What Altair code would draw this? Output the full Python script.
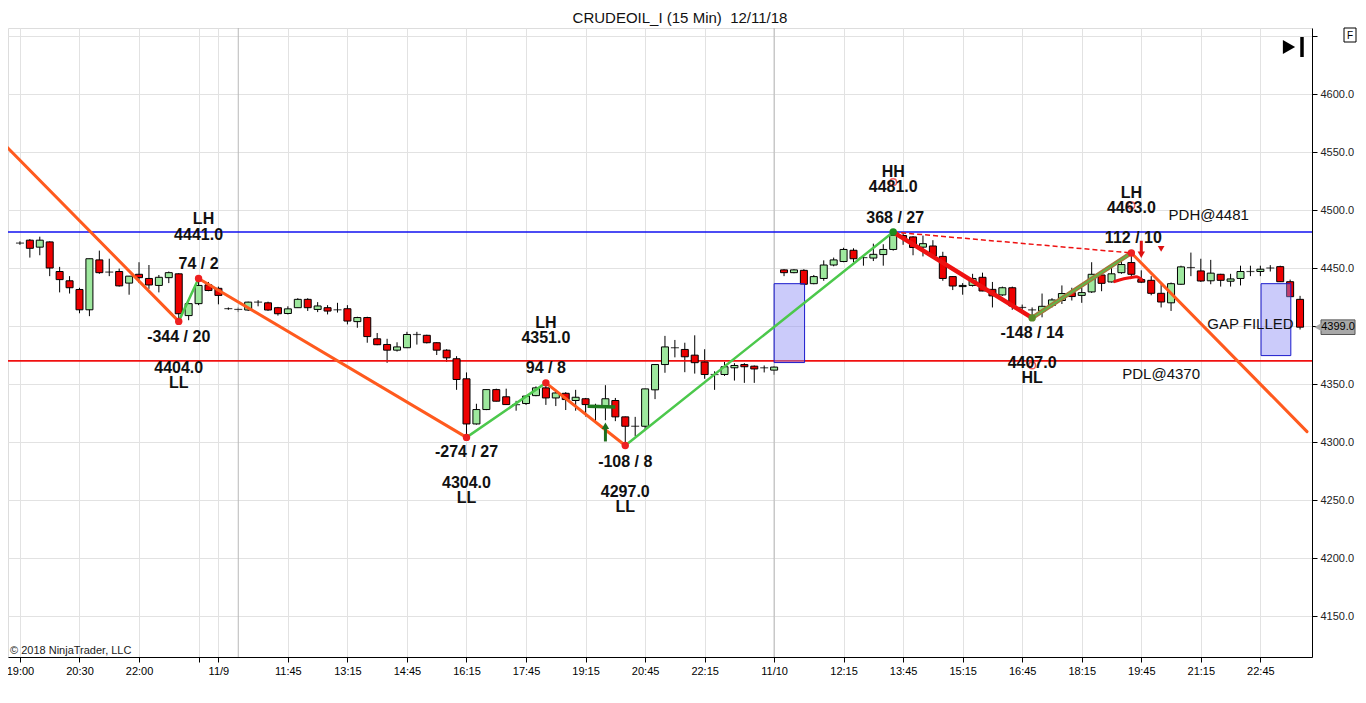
import altair as alt
import pandas as pd

# ---------------- data ----------------
opens = [4471.5,4474,4468,4472.5,4447,4439,4431.5,4414,4457,4446.5,
         4447,4437,4444.6,4441,4435,4441.7,4445,4409,4419.3,4435.5,
         4432.5,4415,4414.3,4413.8,4420.6,4420,4415.8,4410.8,4415.8,4423,
         4414.3,4415.8,4414,4414.9,4403.8,4407.3,4389,4384.1,4379.2,4381.3,
         4392.7,4392,4385.6,4379.2,4371.8,4354.5,4315.6,4328,4345.2,4339,
         4332.3,4333.2,4340,4346.7,4338,4342,4335.8,4337.3,4331.5,4331.4,
         4335.8,4321.7,4313.6,4313.6,4345,4366.8,4381.3,4379.8,4374.9,4369,
         4358.2,4358.2,4364,4366.8,4365.4,4364,4362,4448.4,4446,4448,
         4436.5,4441,4452.6,4455.6,4465.3,4459,4458.6,4461.6,4466,4478,
         4476.8,4468,4469,4460,4442.6,4434,4435,4442,4431.6,4426.8,
         4433,4416,4414,4413,4417.8,4422,4428.8,4426.4,4429.4,4444,
         4438,4446,4454.7,4440,4439.4,4428.2,4420,4436,4450.4,4447.5,
         4439,4444.6,4438.6,4441,4447,4447,4450,4451.2,4438.2,4423]
closes = [4471.5,4467,4474,4450,4440,4433,4414,4458,4446,4446.5,
          4434.6,4443,4441.7,4435.4,4442,4446,4410.6,4419.3,4435,4430.6,
          4426.4,4415,4414.3,4420.6,4420.6,4413.8,4410.6,4414.8,4423,4415.8,
          4417.3,4412.9,4414,4404.3,4407.3,4390.9,4383.9,4379.2,4382,4392.7,
          4392.7,4385.6,4379.2,4372.6,4353.9,4315.6,4328,4345.2,4335.2,4332.3,
          4332.3,4339.6,4346.7,4338,4342.3,4336.6,4338.6,4332.3,4331.5,4337.3,
          4321.7,4313.6,4313.6,4345.8,4366.8,4382,4381.3,4373.5,4368.4,4358.2,
          4358.2,4364.9,4366,4364.9,4363,4364,4364.6,4446,4448.4,4436,
          4442.6,4452.6,4457,4466,4458,4459,4461.8,4466,4478.2,4476,
          4467.7,4471,4460.4,4441,4434.5,4435,4441,4430.2,4426,4433,
          4417.3,4416,4414,4417,4422.5,4428,4425.4,4428.8,4444.6,4436.8,
          4445,4453,4444.6,4437.8,4428.2,4420.7,4436.5,4451,4450.4,4438.8,
          4445.6,4439.4,4440.6,4447,4447,4449,4450,4438.2,4425.3,4399]
highs = [4473,4475,4477,4473,4451,4443,4433,4458,4465,4458,
         4449.5,4443,4455,4452.6,4444,4447,4445.5,4420,4441,4438,
         4434,4416,4416,4421,4422.3,4421,4416.5,4417,4424,4424,
         4420.6,4418,4420,4418,4408,4408,4394,4389,4386,4395,
         4395,4392.5,4386,4380,4374,4360,4333,4345.5,4346,4346,
         4335.5,4340,4348,4351,4345,4343,4345,4338,4333,4349,
         4338,4322,4321.7,4346,4367,4391.5,4388,4385.6,4392,4380,
         4361,4369,4368,4368,4366,4366,4365.5,4449,4449,4449,
         4444,4456.6,4459,4467.5,4467,4460,4471,4470.5,4481,4480,
         4477.5,4478,4474,4464,4443,4437,4445,4446,4438,4434,
         4434,4418.5,4416,4428,4424,4435,4433,4433,4455,4445,
         4452,4457,4463,4448,4443,4436,4437.5,4452,4463.3,4458,
         4457,4445,4445,4452,4452,4452,4452.5,4452,4440,4426]
lows = [4470,4459,4461,4443,4429,4428,4411,4408.5,4445,4443,
        4434,4427,4437,4432,4429,4437,4404,4405,4418,4430,
        4418.7,4414,4412,4413,4417,4413,4409,4410,4415.8,4413,
        4412,4410,4411.6,4401.4,4398.5,4385.6,4383.5,4368.3,4378,4381,
        4384,4385,4375,4369,4345,4304,4315,4327.5,4335,4332,
        4327,4332,4339.5,4332,4331,4327.6,4327,4322,4318,4318.8,
        4318,4297,4305,4311,4337,4359.7,4373,4360.2,4359,4354.5,
        4345,4357,4353,4351,4351,4360,4358,4443,4445.5,4435.9,
        4436,4439,4451.5,4455,4455,4452,4456,4452,4465,4470,
        4461,4460,4460,4439,4431,4427,4434,4430,4416,4426,
        4414,4411,4407,4407.5,4416,4419,4422,4420,4428.5,4430,
        4437.5,4445,4443,4437,4426.5,4416,4413,4435.5,4443,4438,
        4436,4434,4434,4435,4443,4443,4447,4438,4425.3,4397]

tick_idx = [0, 6, 12, 18, 20, 27, 33, 39, 45, 51, 57, 63, 69, 76, 83, 89, 95, 101, 107, 113, 119, 125]
tick_lbl = ['19:00', '20:30', '22:00', '', '11/9', '11:45', '13:15', '14:45', '16:15', '17:45', '19:15',
            '20:45', '22:15', '11/10', '12:15', '13:45', '15:15', '16:45', '18:15', '19:45', '21:15', '22:45']
price_ticks = [4150, 4200, 4250, 4300, 4350, 4400, 4450, 4500, 4550, 4600, 4650]

# zigzag swing points
zz_i = [-1.5, 16, 18, 45, 53, 61, 88, 102, 112, 129.7]
zz_p = [4556, 4404, 4441, 4304, 4351, 4297, 4481, 4407, 4463, 4309]
zz_col = ['#FF5A1E', '#4CC84C', '#FF5A1E', '#4CC84C', '#FF5A1E', '#4CC84C', '#EE1111', '#A07C3C', '#FF5A1E']
zz_w = [3, 2.5, 3, 2.5, 3, 2.5, 4.5, 4.5, 3]

dot_i = [16, 18, 45, 53, 61, 88, 102, 112]
dot_p = [4404, 4441, 4304, 4351, 4297, 4481, 4407, 4463]
dot_c = ['#EE2020', '#EE2020', '#EE2020', '#EE2020', '#EE2020', '#1E8C1E', '#5A8C28', '#EE2020']

swing_i = [88, 112, 102]
swing_p = [4524, 4504, 4366]

pdh, pdl = 4481, 4370
gaps_i1 = [76, 125.07]
gaps_i2 = [79.07, 128.07]
gaps_lo = [4368.5, 4374.5]
gaps_hi = [4436.5, 4436.5]

bold_txt = ['LH', '4441.0', '74 / 2', '-344 / 20', '4404.0', 'LL',
            'LH', '4351.0', '94 / 8', '-274 / 27', '4304.0', 'LL',
            '-108 / 8', '4297.0', 'LL', 'HH', '4481.0', '368 / 27',
            '-148 / 14', '4407.0', 'HL', 'LH', '4463.0', '112 / 10']
bold_i = [18.5, 18, 18, 16, 16, 16, 53, 53, 53, 45, 45, 45,
          61, 61, 61, 88, 88, 88.2, 102, 102, 102, 112, 112, 112.2]
bold_p = [4492.2, 4478.4, 4453.4, 4390.5, 4363.8, 4350.9,
          4402.6, 4389.7, 4363.8, 4291.4, 4264.7, 4251.7,
          4282.8, 4256.9, 4244.0, 4532.8, 4519.8, 4493.1,
          4394.0, 4368.1, 4355.2, 4514.7, 4501.7, 4475.9]
reg_txt = ['PDH@4481', 'PDL@4370', 'GAP FILLED']
reg_i = [119.8, 115, 124]
reg_p = [4495.7, 4358.6, 4401.7]

last_price = 4399.0

# ---------------- build ----------------
FONT = 'Liberation Sans'
XD = [-0.7, 129.7]
YD = [4114.7, 4656.9]

df = pd.DataFrame({'i': list(range(len(opens))), 'o': opens, 'h': highs, 'l': lows, 'c': closes})
df['dir'] = ['up' if c > o else ('down' if c < o else 'flat') for o, c in zip(df.o, df.c)]

label_expr = ''.join(f"datum.value == {t} ? '{l}' : " for t, l in zip(tick_idx, tick_lbl)) + "''"

xs = alt.Scale(domain=XD, nice=False, zero=False)
ys = alt.Scale(domain=YD, nice=False, zero=False)

x_axis = alt.Axis(values=tick_idx, labelExpr=label_expr, title=None, grid=True, gridColor='#E2E2E2',
                  tickSize=5, tickColor='black', domainColor='black', labelFont=FONT, labelFontSize=11,
                  labelColor='black', labelPadding=3, labelFlush=False, labelOverlap=False)
y_axis = alt.Axis(values=price_ticks, orient='right', title=None, grid=True, gridColor='#E2E2E2',
                  labelExpr="(datum.value == 4650 || datum.value == 4400) ? '' : format(datum.value, '.1f')",
                  tickSize=5, tickColor='black', domainColor='black', labelFont=FONT, labelFontSize=11,
                  labelColor='#222', labelPadding=3, labelOverlap=False)

base = alt.Chart(df)

wicks = base.mark_rule(color='black', strokeWidth=1).encode(
    x=alt.X('i:Q', scale=xs, axis=x_axis),
    y=alt.Y('l:Q', scale=ys, axis=y_axis),
    y2='h:Q')

bodies = base.transform_filter("datum.dir != 'flat'").mark_bar(size=7, stroke='black', strokeWidth=1).encode(
    x='i:Q', y='o:Q', y2='c:Q',
    color=alt.Color('dir:N', scale=alt.Scale(domain=['up', 'down'], range=['#9EE89E', '#EE0000']), legend=None))

dojis = base.transform_filter("datum.dir == 'flat'").mark_tick(orient='horizontal', size=8, thickness=1.2,
                                                              color='black').encode(x='i:Q', y='o:Q')

sess = alt.Chart(pd.DataFrame({'i': [22, 76]})).mark_rule(color='#B8B8B8', strokeWidth=1).encode(x='i:Q')

levels = alt.Chart(pd.DataFrame({'p': [pdh, pdl], 'col': ['#1010F0', '#F01010']})).mark_rule(strokeWidth=1.6).encode(
    y='p:Q', color=alt.Color('col:N', scale=None))

gdf = pd.DataFrame({'i1': gaps_i1, 'i2': gaps_i2, 'lo': gaps_lo, 'hi': gaps_hi})
gaps = alt.Chart(gdf).mark_rect(fill='#8C8CF5', fillOpacity=0.45, stroke='#1A1ACC', strokeWidth=1).encode(
    x='i1:Q', x2='i2:Q', y='lo:Q', y2='hi:Q')

rows = []
for k in range(len(zz_col)):
    for j in (0, 1):
        rows.append({'seg': k, 'ord': j, 'i': zz_i[k + j], 'p': zz_p[k + j], 'col': zz_col[k], 'w': zz_w[k]})
zdf = pd.DataFrame(rows)
zig = alt.Chart(zdf).mark_line(clip=True, strokeCap='round').encode(
    x='i:Q', y='p:Q', detail='seg:N', order='ord:Q',
    color=alt.Color('col:N', scale=None), strokeWidth=alt.StrokeWidth('w:Q', scale=None))
zig_inner = alt.Chart(zdf[zdf.seg == 7]).mark_line(color='#4CC84C', strokeWidth=1.2).encode(
    x='i:Q', y='p:Q', order='ord:Q')

dash = alt.Chart(pd.DataFrame({'i': [88, 112], 'p': [4481, 4463]})).mark_line(
    color='#EE1111', strokeWidth=1.5, strokeDash=[5, 3]).encode(x='i:Q', y='p:Q')

dots = alt.Chart(pd.DataFrame({'i': dot_i, 'p': dot_p, 'c': dot_c})).mark_circle(size=55, opacity=1).encode(
    x='i:Q', y='p:Q', color=alt.Color('c:N', scale=None))

swings = alt.Chart(pd.DataFrame({'i': swing_i, 'p': swing_p})).mark_point(
    shape='circle', size=45, color='#EE2020', strokeWidth=1.5, filled=False).encode(x='i:Q', y='p:Q')

green_bar = alt.Chart(pd.DataFrame({'i': [57.2, 60], 'p': [4330.8, 4330.2]})).mark_line(
    color='#1E7A1E', strokeWidth=3.5).encode(x='i:Q', y='p:Q')
up_shaft = alt.Chart(pd.DataFrame({'i': [59], 'a': [4300.5], 'b': [4312]})).mark_rule(
    color='#1E6E1E', strokeWidth=3).encode(x='i:Q', y='a:Q', y2='b:Q')
up_head = alt.Chart(pd.DataFrame({'i': [59], 'p': [4314]})).mark_point(
    shape='triangle-up', filled=True, size=55, color='#1E6E1E', opacity=1).encode(x='i:Q', y='p:Q')
dn_shaft = alt.Chart(pd.DataFrame({'i': [113], 'a': [4473.5], 'b': [4463]})).mark_rule(
    color='#DD1010', strokeWidth=3).encode(x='i:Q', y='a:Q', y2='b:Q')
dn_head = alt.Chart(pd.DataFrame({'i': [113], 'p': [4461.5]})).mark_point(
    shape='triangle-down', filled=True, size=55, color='#DD1010', opacity=1).encode(x='i:Q', y='p:Q')
tri = alt.Chart(pd.DataFrame({'i': [115], 'p': [4466.5]})).mark_point(
    shape='triangle-down', filled=True, size=45, color='#DD1010', opacity=1).encode(x='i:Q', y='p:Q')
curve = alt.Chart(pd.DataFrame({'i': [110.2, 110.8, 111.8, 112.5, 113.1],
                                'p': [4438, 4439.7, 4441.6, 4442.5, 4439.7]})).mark_line(
    color='#EE1111', strokeWidth=3, interpolate='monotone').encode(x='i:Q', y='p:Q')

btext = alt.Chart(pd.DataFrame({'t': bold_txt, 'i': bold_i, 'p': bold_p})).mark_text(
    font=FONT, fontSize=16, fontWeight='bold', color='#111').encode(x='i:Q', y='p:Q', text='t:N')
rtext = alt.Chart(pd.DataFrame({'t': reg_txt, 'i': reg_i, 'p': reg_p})).mark_text(
    font=FONT, fontSize=15, color='#111').encode(x='i:Q', y='p:Q', text='t:N')

one = pd.DataFrame({'k': [0]})
title = alt.Chart(one).mark_text(font=FONT, fontSize=15, color='#111', align='center',
                                 baseline='alphabetic').encode(
    x=alt.value(672), y=alt.value(-5.5), text=alt.value('CRUDEOIL_I (15 Min)\u00a0\u00a012/11/18'))
copy = alt.Chart(one).mark_text(font=FONT, fontSize=11, color='#222', align='left').encode(
    x=alt.value(2), y=alt.value(623), text=alt.value('\u00a9 2018 NinjaTrader, LLC'))

play = alt.Chart(one).mark_point(shape='triangle-right', filled=True, size=200, color='black', opacity=1).encode(
    x=alt.value(1281), y=alt.value(19))
play_bar = alt.Chart(one).mark_rule(color='black', strokeWidth=3.5).encode(
    x=alt.value(1294), y=alt.value(9), y2=alt.value(29))
fbox = alt.Chart(one).mark_rect(fill='white', stroke='black', strokeWidth=1).encode(
    x=alt.value(1336), x2=alt.value(1348), y=alt.value(0), y2=alt.value(14))
ftext = alt.Chart(one).mark_text(font=FONT, fontSize=10, color='black').encode(
    x=alt.value(1342), y=alt.value(7.5), text=alt.value('F'))

tag_df = pd.DataFrame({'p': [last_price], 'a': [last_price + 6.3], 'b': [last_price - 6.3],
                       't': [f'{last_price:.1f}']})
tag_rect = alt.Chart(tag_df).mark_rect(fill='#A8A8A8', stroke='#555', strokeWidth=1).encode(
    x=alt.value(1313), x2=alt.value(1347), y='a:Q', y2='b:Q')
tag_tip = alt.Chart(tag_df).mark_point(shape='triangle-left', filled=True, size=70, color='#A8A8A8',
                                       opacity=1).encode(x=alt.value(1310), y='p:Q')
tag_txt = alt.Chart(tag_df).mark_text(font=FONT, fontSize=11, color='black').encode(
    x=alt.value(1330), y='p:Q', text='t:N')

chart = alt.layer(
    wicks, sess, levels, bodies, dojis, gaps, zig, zig_inner, dash, green_bar, curve,
    up_shaft, up_head, dn_shaft, dn_head, tri, dots, swings, btext, rtext,
    title, copy, play, play_bar, fbox, ftext, tag_rect, tag_tip, tag_txt
).properties(
    width=1304, height=629,
    padding={'left': 0, 'top': 20, 'right': 46, 'bottom': 40},
    autosize=alt.AutoSizeParams(type='none')
).configure_view(stroke='black', strokeWidth=1).configure(background='white')

chart.save('out.html', embed_options={'renderer': 'svg', 'actions': False})
